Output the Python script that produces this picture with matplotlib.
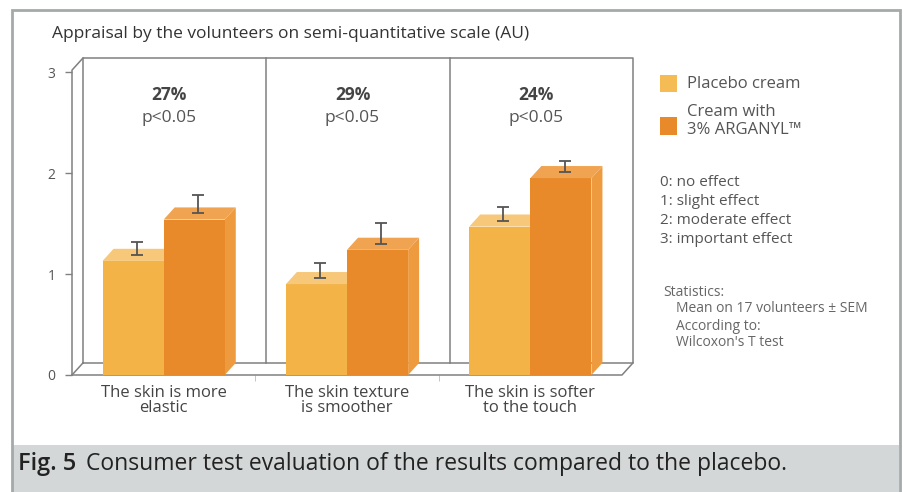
import numpy as np
import matplotlib.pyplot as plt
from matplotlib.patches import Rectangle, Polygon
from matplotlib.text import Annotation

plt.rcParams['font.family'] = ['Open Sans', 'DejaVu Sans']

# data
categories = ["The skin is more\nelastic", "The skin texture\nis smoother", "The skin is softer\nto the touch"]
placebo = [1.13, 0.90, 1.47]
arganyl = [1.54, 1.24, 1.95]
placebo_err = [0.13, 0.15, 0.13]
arganyl_err = [0.18, 0.21, 0.11]
gains = ["27%", "29%", "24%"]
pvals = ["p<0.05", "p<0.05", "p<0.05"]
yticks = [0, 1, 2, 3]

W, H = 904, 492
fig = plt.figure(figsize=(W / 100, H / 100), dpi=100)


def fx(x):
    return x / W


def fy(y):
    return 1 - y / H


# outer frame and caption band
fig.add_artist(Rectangle((fx(13), fy(492)), fx(886), 47 / H, transform=fig.transFigure,
                         facecolor='#d4d7d7', edgecolor='none'))
fig.add_artist(Rectangle((fx(12), fy(494)), fx(888), 484 / H, transform=fig.transFigure,
                         facecolor='none', edgecolor='#a3aaa9', lw=2))
cap = fig.text(fx(18), fy(464), "Fig. 5", fontsize=17, fontweight='semibold', color='#222222', va='center')
fig.add_artist(Annotation("Consumer test evaluation of the results compared to the placebo.",
                          xy=(1, 0.5), xycoords=cap, xytext=(7, 0), textcoords='offset points',
                          fontsize=16.5, color='#222222', va='center', ha='left'))

fig.text(fx(52), fy(34), "Appraisal by the volunteers on semi-quantitative scale (AU)",
         fontsize=12.5, color='#333333', va='center')

# chart axes: front plane x 72..622, y 375..72 ; back plane offset by depth
ax = fig.add_axes([fx(72), fy(375), 561 / W, 317 / H])
dx, dy = 0.06, 0.12
ax.set_xlim(0, 3 + dx)
ax.set_ylim(0, 3.14)
for s in ax.spines.values():
    s.set_visible(False)

lc = '#808080'
# back plane, dividers, floor and left wall
ax.plot([dx, 3 + dx, 3 + dx, dx, dx], [dy, dy, 3.14, 3.14, dy], color=lc, lw=1.1, clip_on=False)
for k in [1, 2]:
    ax.plot([k + dx, k + dx], [dy, 3.14], color=lc, lw=1.1, clip_on=False)
ax.plot([0, 3, 3 + dx], [0, 0, dy], color=lc, lw=1.1, clip_on=False)
ax.plot([0, dx], [0, dy], color=lc, lw=1.1, clip_on=False)
ax.plot([0, 0, dx], [0, 3.02, 3.14], color=lc, lw=1.1, clip_on=False)

# 3D-looking bars
w = 1 / 3
x = np.arange(len(categories)) + 0.5
c_plac, c_plac_top = '#f3b347', '#f7c879'
c_arg, c_arg_top, c_arg_side = '#e8892a', '#f0a451', '#ee9b40'
for xs, vals, errs, fc, tc, sc in [(x - w / 2, placebo, placebo_err, c_plac, c_plac_top, c_plac),
                                   (x + w / 2, arganyl, arganyl_err, c_arg, c_arg_top, c_arg_side)]:
    ax.bar(xs, vals, width=w, color=fc, edgecolor='none', zorder=3)
    for xc, v in zip(xs, vals):
        l, r = xc - w / 2, xc + w / 2
        ax.add_patch(Polygon([(l, v), (r, v), (r + dx, v + dy), (l + dx, v + dy)],
                             closed=True, facecolor=tc, edgecolor='none', zorder=3))
        ax.add_patch(Polygon([(r, 0), (r + dx, dy), (r + dx, v + dy), (r, v)],
                             closed=True, facecolor=sc, edgecolor='none', zorder=2))
    tops = np.array(vals) + dy / 2
    ax.errorbar(xs + dx / 3, tops, yerr=[np.zeros(len(errs)), errs], fmt='none',
                ecolor='#555555', elinewidth=1.3, capsize=4, capthick=1.3, zorder=4)

for xc, g, p in zip(x, gains, pvals):
    ax.text(xc + dx / 2, 2.77, g, ha='center', va='center', fontsize=12.5, fontweight='bold', color='#444444')
    ax.text(xc + dx / 2, 2.55, p, ha='center', va='center', fontsize=12.5, color='#555555')

ax.set_yticks(yticks)
ax.set_yticklabels([str(t) for t in yticks], color='#555555', fontsize=10)
ax.tick_params(axis='y', length=5, width=1, color=lc, pad=7)
ax.set_xticks(x)
ax.set_xticklabels(categories, fontsize=12, color='#444444', linespacing=0.95)
ax.tick_params(axis='x', length=0, pad=7)
ax.set_xticks([1, 2], minor=True)
ax.tick_params(axis='x', which='minor', length=4, color='#bbbbbb')

# legend
fig.add_artist(Rectangle((fx(660), fy(92)), 17 / W, 17 / H, transform=fig.transFigure,
                         facecolor='#f5bb55', edgecolor='none'))
fig.add_artist(Rectangle((fx(660), fy(135)), 17 / W, 18 / H, transform=fig.transFigure,
                         facecolor=c_arg, edgecolor='none'))
fig.text(fx(687), fy(84), "Placebo cream", fontsize=12, color='#555555', va='center')
fig.text(fx(687), fy(121), "Cream with\n3% ARGANYL\u2122", fontsize=12, color='#555555',
         va='center', linespacing=1.1)

scale = ["0: no effect", "1: slight effect", "2: moderate effect", "3: important effect"]
for i, s in enumerate(scale):
    fig.text(fx(660), fy(183 + i * 18.7), s, fontsize=11, color='#555555', va='center')

fig.text(fx(663), fy(292), "Statistics:", fontsize=10, color='#666666', va='center')
stats = ["Mean on 17 volunteers \u00b1 SEM", "According to:", "Wilcoxon's T test"]
for i, s in enumerate(stats):
    fig.text(fx(676), fy(309 + i * 17), s, fontsize=10, color='#666666', va='center')

fig.savefig('out.png', dpi=100, facecolor='white')
